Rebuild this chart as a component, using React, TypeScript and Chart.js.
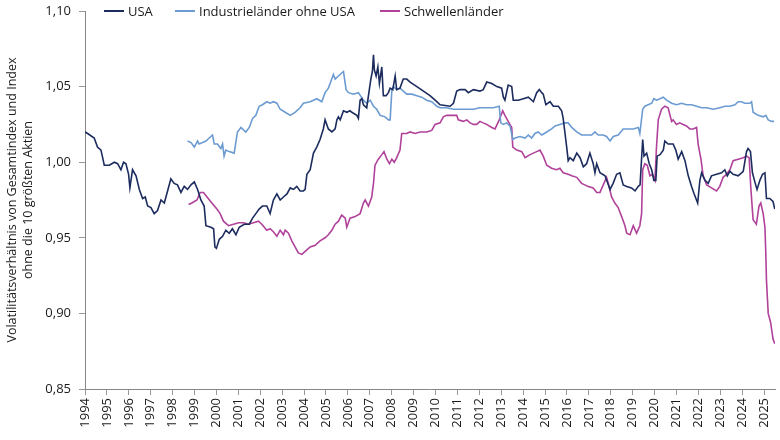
import { useEffect, useRef } from 'react'
import { Chart, registerables } from 'chart.js'

Chart.register(...registerables)

const FONT = '"Open Sans", "Noto Sans", sans-serif'
const NAVY = '#1c2c5e'
const LIGHT = '#6b9bd1'
const MAGENTA = '#b0429a'

// USA
const USA_YEARS = [
  1994.0, 1994.12, 1994.42, 1994.57, 1994.73, 1994.88, 1995.11, 1995.34, 1995.49, 1995.64,
  1995.76, 1995.87, 1995.99, 1996.05, 1996.17, 1996.33, 1996.48, 1996.63, 1996.75, 1996.86,
  1997.01, 1997.16, 1997.31, 1997.47, 1997.62, 1997.77, 1997.92, 1998.07, 1998.22, 1998.38,
  1998.53, 1998.68, 1998.84, 1998.99, 1999.14, 1999.29, 1999.44, 1999.52, 1999.75, 1999.87,
  1999.93, 2000.0, 2000.13, 2000.28, 2000.43, 2000.58, 2000.73, 2000.89, 2001.04, 2001.27,
  2001.5, 2001.65, 2001.8, 2001.95, 2002.1, 2002.3, 2002.45, 2002.6, 2002.76, 2002.91,
  2003.06, 2003.22, 2003.37, 2003.52, 2003.67, 2003.82, 2003.97, 2004.05, 2004.13, 2004.28,
  2004.43, 2004.58, 2004.73, 2004.88, 2004.96, 2005.11, 2005.27, 2005.42, 2005.5, 2005.57,
  2005.65, 2005.8, 2005.95, 2006.1, 2006.18, 2006.41, 2006.48, 2006.56, 2006.64, 2006.71,
  2006.86, 2006.98, 2007.05, 2007.12, 2007.17, 2007.21, 2007.29, 2007.37, 2007.44, 2007.55,
  2007.62, 2007.75, 2007.85, 2007.93, 2008.05, 2008.16, 2008.23, 2008.38, 2008.53, 2008.69,
  2008.84, 2009.15, 2009.45, 2009.75, 2010.06, 2010.21, 2010.67, 2010.82, 2010.97, 2011.12,
  2011.35, 2011.5, 2011.73, 2012.03, 2012.18, 2012.34, 2012.57, 2012.8, 2013.02, 2013.1,
  2013.17, 2013.32, 2013.48, 2013.55, 2013.78, 2014.01, 2014.24, 2014.47, 2014.62, 2014.74,
  2014.85, 2014.92, 2015.04, 2015.23, 2015.38, 2015.61, 2015.76, 2015.83, 2015.99, 2016.06,
  2016.14, 2016.29, 2016.45, 2016.6, 2016.75, 2016.9, 2017.05, 2017.2, 2017.28, 2017.36,
  2017.51, 2017.74, 2017.97, 2018.11, 2018.27, 2018.42, 2018.57, 2018.73, 2018.95, 2019.11,
  2019.26, 2019.34, 2019.46, 2019.52, 2019.64, 2019.76, 2019.87, 2019.97, 2020.06, 2020.12,
  2020.25, 2020.4, 2020.47, 2020.62, 2020.85, 2020.97, 2021.08, 2021.24, 2021.39, 2021.54,
  2021.69, 2021.81, 2021.97, 2022.07, 2022.15, 2022.3, 2022.45, 2022.6, 2022.83, 2023.06,
  2023.21, 2023.32, 2023.44, 2023.59, 2023.82, 2024.05, 2024.2, 2024.27, 2024.38, 2024.47,
  2024.58, 2024.68, 2024.81, 2024.93, 2025.04, 2025.11, 2025.26, 2025.41, 2025.49,
]
const USA_VALUES = [
  1.02, 1.019, 1.016, 1.01, 1.008, 0.998, 0.998, 1.0, 0.999, 0.995,
  1.0, 0.999, 0.992, 0.983, 0.995, 0.991, 0.982, 0.976, 0.977, 0.971,
  0.97, 0.966, 0.968, 0.975, 0.973, 0.981, 0.989, 0.986, 0.985, 0.98,
  0.984, 0.982, 0.985, 0.987, 0.982, 0.975, 0.971, 0.958, 0.957, 0.956,
  0.944, 0.943, 0.949, 0.951, 0.955, 0.953, 0.956, 0.952, 0.957, 0.959,
  0.959, 0.963, 0.966, 0.969, 0.971, 0.971, 0.966, 0.975, 0.979, 0.975,
  0.977, 0.979, 0.983, 0.982, 0.984, 0.981, 0.981, 0.982, 0.992, 0.995,
  1.006, 1.01, 1.015, 1.022, 1.028, 1.022, 1.02, 1.022, 1.028, 1.03,
  1.028, 1.034, 1.033, 1.034, 1.033, 1.031, 1.029, 1.041, 1.042, 1.038,
  1.036, 1.048, 1.055, 1.06, 1.071, 1.061, 1.057, 1.063, 1.052, 1.063,
  1.044, 1.044, 1.046, 1.049, 1.048, 1.057, 1.048, 1.049, 1.055, 1.055,
  1.053, 1.05, 1.047, 1.044, 1.04, 1.038, 1.037, 1.039, 1.047, 1.048,
  1.048, 1.046, 1.048, 1.047, 1.048, 1.053, 1.052, 1.05, 1.049, 1.043,
  1.041, 1.051, 1.05, 1.041, 1.041, 1.042, 1.043, 1.04, 1.046, 1.048,
  1.046, 1.045, 1.038, 1.04, 1.037, 1.037, 1.034, 1.029, 1.01, 1.001,
  1.003, 1.001, 1.006, 1.003, 0.997, 0.999, 1.006, 0.999, 0.993, 0.999,
  0.993, 0.991, 0.982, 0.986, 0.992, 0.993, 0.985, 0.984, 0.983, 0.981,
  0.984, 0.985, 1.015, 1.004, 1.006, 0.999, 0.995, 0.988, 0.988, 1.004,
  1.005, 1.008, 1.014, 1.012, 1.012, 1.008, 1.002, 1.007, 1.001, 0.991,
  0.984, 0.979, 0.973, 0.988, 0.993, 0.988, 0.986, 0.991, 0.992, 0.993,
  0.995, 0.991, 0.994, 0.992, 0.991, 0.994, 1.007, 1.009, 1.007, 0.993,
  0.987, 0.982, 0.988, 0.992, 0.993, 0.976, 0.976, 0.974, 0.969,
]

// Industrieländer ohne USA
const IND_YEARS = [
  1998.68, 1998.84, 1998.99, 1999.14, 1999.21, 1999.37, 1999.52, 1999.67, 1999.82, 1999.9,
  2000.05, 2000.2, 2000.28, 2000.35, 2000.43, 2000.58, 2000.81, 2000.96, 2001.12, 2001.34,
  2001.5, 2001.65, 2001.8, 2001.95, 2002.1, 2002.3, 2002.45, 2002.6, 2002.76, 2002.91,
  2003.14, 2003.37, 2003.59, 2003.82, 2003.97, 2004.28, 2004.58, 2004.81, 2004.96, 2005.11,
  2005.19, 2005.34, 2005.42, 2005.57, 2005.72, 2005.8, 2005.92, 2006.03, 2006.25, 2006.48,
  2006.71, 2006.86, 2007.02, 2007.17, 2007.32, 2007.47, 2007.7, 2007.85, 2007.93, 2008.01,
  2008.08, 2008.23, 2008.38, 2008.53, 2008.69, 2008.92, 2009.15, 2009.37, 2009.6, 2009.83,
  2010.06, 2010.21, 2010.51, 2010.82, 2011.12, 2011.43, 2011.73, 2012.03, 2012.34, 2012.64,
  2012.91, 2012.98, 2013.1, 2013.25, 2013.4, 2013.53, 2013.63, 2013.86, 2014.09, 2014.24,
  2014.39, 2014.54, 2014.69, 2014.85, 2015.08, 2015.3, 2015.46, 2015.68, 2015.91, 2016.06,
  2016.22, 2016.45, 2016.67, 2016.9, 2017.13, 2017.28, 2017.43, 2017.66, 2017.81, 2017.97,
  2018.12, 2018.34, 2018.57, 2018.8, 2019.03, 2019.26, 2019.33, 2019.46, 2019.56, 2019.71,
  2019.87, 2019.97, 2020.09, 2020.25, 2020.4, 2020.55, 2020.78, 2021.0, 2021.24, 2021.46,
  2021.69, 2021.92, 2022.15, 2022.38, 2022.68, 2022.98, 2023.21, 2023.44, 2023.67, 2023.82,
  2023.97, 2024.12, 2024.35, 2024.43, 2024.5, 2024.73, 2024.96, 2025.08, 2025.19, 2025.34,
  2025.46,
]
const IND_VALUES = [
  1.014, 1.013, 1.01, 1.014, 1.012, 1.013, 1.014, 1.016, 1.018, 1.012,
  1.012, 1.009, 1.012, 1.004, 1.008, 1.007, 1.006, 1.02, 1.023, 1.02,
  1.023, 1.029, 1.031, 1.037, 1.038, 1.04, 1.039, 1.04, 1.039, 1.035,
  1.033, 1.031, 1.033, 1.036, 1.039, 1.04, 1.042, 1.04, 1.046, 1.049,
  1.052, 1.058, 1.055, 1.057, 1.059, 1.06, 1.048, 1.046, 1.045, 1.046,
  1.041, 1.039, 1.041, 1.037, 1.035, 1.031, 1.03, 1.028, 1.028, 1.048,
  1.05, 1.048, 1.049, 1.047, 1.045, 1.045, 1.044, 1.043, 1.041, 1.04,
  1.037, 1.036, 1.036, 1.035, 1.035, 1.035, 1.035, 1.036, 1.036, 1.036,
  1.037, 1.026, 1.025, 1.026, 1.024, 1.015, 1.016, 1.017, 1.016, 1.018,
  1.016, 1.019, 1.02, 1.018, 1.02, 1.022, 1.024, 1.025, 1.026, 1.026,
  1.023, 1.02, 1.018, 1.018, 1.018, 1.02, 1.018, 1.018, 1.017, 1.014,
  1.017, 1.018, 1.022, 1.022, 1.022, 1.023, 1.019, 1.035, 1.037, 1.038,
  1.039, 1.042, 1.041, 1.042, 1.043, 1.041, 1.039, 1.038, 1.039, 1.038,
  1.038, 1.037, 1.036, 1.036, 1.035, 1.036, 1.037, 1.037, 1.038, 1.04,
  1.04, 1.039, 1.039, 1.04, 1.033, 1.031, 1.03, 1.031, 1.028, 1.027,
  1.027,
]

// Schwellenländer
const EM_YEARS = [
  1998.73, 1998.88, 1999.11, 1999.26, 1999.41, 1999.57, 1999.79, 2000.02, 2000.17, 2000.32,
  2000.55, 2000.78, 2001.01, 2001.24, 2001.46, 2001.69, 2001.92, 2002.07, 2002.3, 2002.45,
  2002.6, 2002.76, 2002.91, 2003.06, 2003.14, 2003.29, 2003.44, 2003.59, 2003.74, 2003.9,
  2004.05, 2004.28, 2004.51, 2004.73, 2004.96, 2005.11, 2005.27, 2005.42, 2005.57, 2005.72,
  2005.88, 2005.95, 2006.1, 2006.33, 2006.56, 2006.71, 2006.79, 2006.94, 2007.09, 2007.17,
  2007.24, 2007.39, 2007.55, 2007.65, 2007.78, 2007.9, 2008.01, 2008.12, 2008.23, 2008.38,
  2008.46, 2008.69, 2008.84, 2009.07, 2009.3, 2009.6, 2009.83, 2009.98, 2010.21, 2010.36,
  2010.51, 2010.82, 2010.97, 2011.04, 2011.27, 2011.43, 2011.58, 2011.73, 2011.88, 2012.03,
  2012.18, 2012.34, 2012.57, 2012.72, 2012.91, 2013.07, 2013.17, 2013.32, 2013.48, 2013.53,
  2013.71, 2013.94, 2014.09, 2014.32, 2014.62, 2014.77, 2014.92, 2015.08, 2015.3, 2015.53,
  2015.68, 2015.83, 2016.06, 2016.22, 2016.45, 2016.67, 2016.82, 2016.97, 2017.2, 2017.36,
  2017.51, 2017.66, 2017.81, 2017.89, 2018.04, 2018.19, 2018.34, 2018.5, 2018.65, 2018.73,
  2018.88, 2019.03, 2019.18, 2019.33, 2019.41, 2019.46, 2019.56, 2019.67, 2019.79, 2019.91,
  2020.02, 2020.09, 2020.17, 2020.32, 2020.47, 2020.62, 2020.78, 2020.85, 2021.0, 2021.15,
  2021.31, 2021.46, 2021.61, 2021.76, 2021.92, 2021.99, 2022.12, 2022.22, 2022.38, 2022.6,
  2022.83, 2022.98, 2023.13, 2023.29, 2023.44, 2023.59, 2023.82, 2024.05, 2024.2, 2024.32,
  2024.4, 2024.5, 2024.65, 2024.77, 2024.85, 2024.96, 2025.04, 2025.08, 2025.11, 2025.19,
  2025.3, 2025.41, 2025.49,
]
const EM_VALUES = [
  0.972, 0.973, 0.975, 0.98, 0.98, 0.977, 0.973, 0.969, 0.966, 0.961,
  0.958, 0.959, 0.96, 0.96, 0.959, 0.96, 0.961, 0.959, 0.955, 0.956,
  0.954, 0.951, 0.955, 0.952, 0.955, 0.953, 0.948, 0.944, 0.94, 0.939,
  0.941, 0.944, 0.945, 0.948, 0.95, 0.952, 0.955, 0.959, 0.961, 0.965,
  0.963, 0.957, 0.963, 0.964, 0.966, 0.973, 0.975, 0.971, 0.977, 0.986,
  0.998, 1.002, 1.005, 1.007, 1.002, 0.999, 1.002, 1.0, 1.003, 1.008,
  1.019, 1.019, 1.02, 1.019, 1.02, 1.02, 1.021, 1.025, 1.026, 1.03,
  1.031, 1.031, 1.031, 1.028, 1.027, 1.028, 1.026, 1.025, 1.025, 1.027,
  1.026, 1.025, 1.023, 1.022, 1.028, 1.034, 1.031, 1.027, 1.023, 1.01,
  1.008, 1.007, 1.003, 1.005, 1.007, 1.008, 1.004, 0.998, 0.996, 0.995,
  0.996, 0.993, 0.992, 0.991, 0.99, 0.986, 0.985, 0.984, 0.983, 0.98,
  0.98, 0.985, 0.99, 0.986, 0.977, 0.973, 0.97, 0.964, 0.958, 0.953,
  0.952, 0.958, 0.953, 0.958, 0.966, 0.995, 0.999, 0.998, 0.991, 0.992,
  0.988, 1.01, 1.028, 1.035, 1.037, 1.036, 1.027, 1.028, 1.025, 1.026,
  1.025, 1.024, 1.022, 1.022, 1.023, 1.012, 1.002, 0.991, 0.985, 0.983,
  0.981, 0.984, 0.99, 0.992, 0.995, 1.001, 1.002, 1.003, 1.004, 1.003,
  0.982, 0.962, 0.959, 0.971, 0.973, 0.966, 0.957, 0.94, 0.922, 0.9,
  0.894, 0.883, 0.88,
]

const LEGEND = [
  { label: 'USA', color: NAVY, left: 104 },
  { label: 'Industrieländer ohne USA', color: LIGHT, left: 175 },
  { label: 'Schwellenländer', color: MAGENTA, left: 380 },
]

const toPoints = (xs: number[], ys: number[]) => xs.map((x, i) => ({ x, y: ys[i] }))

export default function App() {
  const canvasRef = useRef<HTMLCanvasElement>(null)
  const chartRef = useRef<Chart | null>(null)

  useEffect(() => {
    if (!canvasRef.current) return
    if (chartRef.current) chartRef.current.destroy()

    const line = (label: string, color: string, xs: number[], ys: number[]) => ({
      label,
      data: toPoints(xs, ys),
      borderColor: color,
      backgroundColor: color,
      borderWidth: 1.6,
      pointRadius: 0,
      tension: 0,
      fill: false,
    })

    chartRef.current = new Chart(canvasRef.current, {
      type: 'line',
      data: {
        datasets: [
          line('USA', NAVY, USA_YEARS, USA_VALUES),
          line('Industrieländer ohne USA', LIGHT, IND_YEARS, IND_VALUES),
          line('Schwellenländer', MAGENTA, EM_YEARS, EM_VALUES),
        ],
      },
      options: {
        animation: false,
        responsive: true,
        maintainAspectRatio: false,
        layout: { padding: { left: 4, top: 0, right: 0, bottom: 7 } },
        scales: {
          x: {
            type: 'linear',
            min: 1994,
            max: 2025.5,
            afterFit: (s: any) => {
              s.height = 44
              s.paddingLeft = 0
              s.paddingRight = 5
            },
            ticks: {
              stepSize: 1,
              autoSkip: false,
              includeBounds: false,
              minRotation: 90,
              maxRotation: 90,
              color: '#1a1a1a',
              font: { family: FONT, size: 13 },
              padding: 3,
              callback: (v: any) => (Number.isInteger(v) ? String(v) : ''),
            },
            grid: { drawOnChartArea: false, tickLength: 6, color: '#999' },
            border: { color: '#888' },
          },
          y: {
            min: 0.85,
            max: 1.1,
            afterFit: (s: any) => {
              s.width = 81
              s.paddingTop = 11
              s.paddingBottom = 0
            },
            ticks: {
              stepSize: 0.05,
              color: '#1a1a1a',
              font: { family: FONT, size: 13 },
              padding: 8,
              callback: (v: any) => Number(v).toFixed(2).replace('.', ','),
            },
            title: {
              display: true,
              text: ['Volatilitätsverhältnis von Gesamtindex und Index', 'ohne die 10 größten Aktien'],
              color: '#1a1a1a',
              font: { family: FONT, size: 12.5, lineHeight: 1.3 },
              padding: { top: 0, bottom: 4 },
            },
            grid: { drawOnChartArea: false, tickLength: 6, color: '#999' },
            border: { color: '#888' },
          },
        },
        plugins: { legend: { display: false }, tooltip: { enabled: false } },
      },
    })

    return () => { chartRef.current?.destroy() }
  }, [])

  return (
    <div style={{ position: 'absolute', left: 0, top: 0, width: 780, height: 440, background: '#fff' }}>
      <canvas ref={canvasRef} />
      {LEGEND.map(item => (
        <div
          key={item.label}
          style={{
            position: 'absolute', left: item.left, top: 2, height: 18,
            display: 'flex', alignItems: 'center',
            fontFamily: FONT, fontSize: 13, color: '#1a1a1a', whiteSpace: 'nowrap',
          }}
        >
          <span style={{ display: 'inline-block', width: 20, height: 2, background: item.color, marginRight: 4 }} />
          {item.label}
        </div>
      ))}
    </div>
  )
}
